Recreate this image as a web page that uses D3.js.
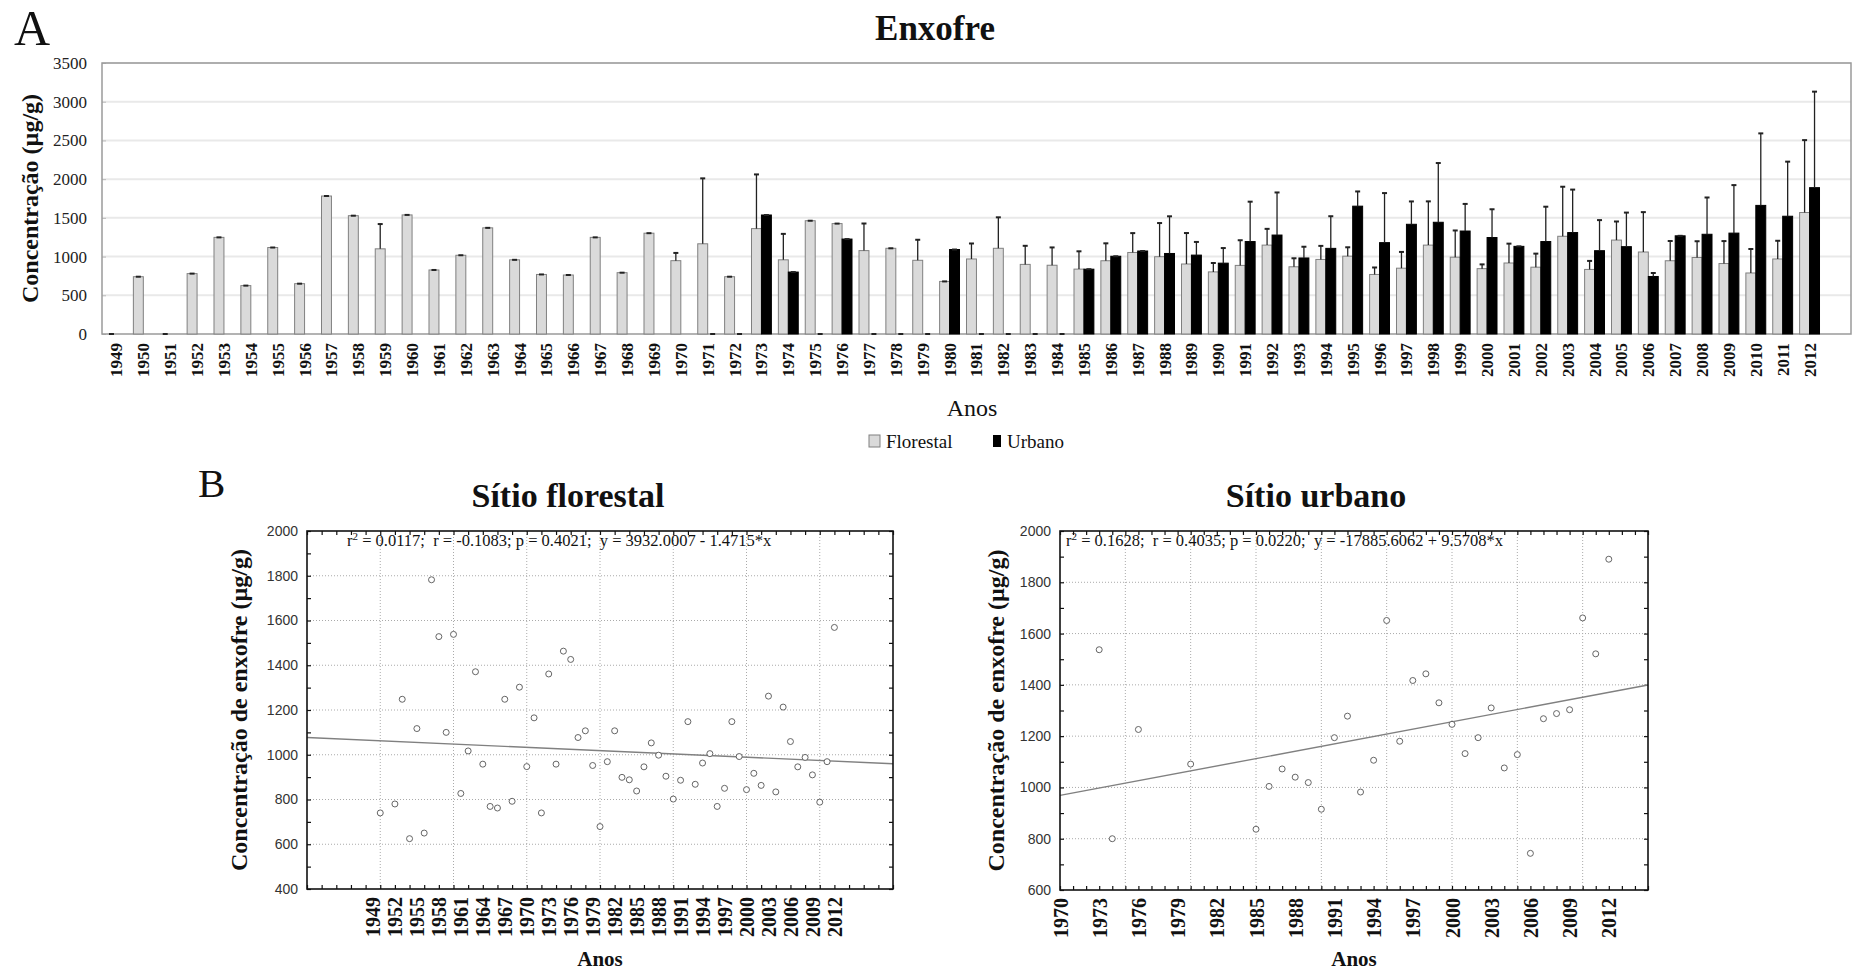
<!DOCTYPE html>
<html>
<head>
<meta charset="utf-8">
<script src="https://cdn.jsdelivr.net/npm/d3@7"></script>
<style>
    body { margin: 0; background: #fff; }
    svg text { font-family: "Liberation Serif", "Times New Roman", serif; fill: #111; }
</style>
</head>
<body>
<div id="chart"></div>
<script>
const width = 1854;
const height = 971;

// ---- data ----
const years = d3.range(1949, 2013);

// mean sulphur, forest site (0 = no sample, drawn as empty cap)
const florestal = [0, 740, 0, 780, 1248, 625, 1117, 650, 1782, 1528,
    1100, 1538, 827, 1017, 1371, 958, 769, 762, 1248, 792,
    1302, 947, 1165, 740, 1361, 958, 1463, 1426, 1077, 1107,
    952, 679, 969, 1107, 899, 888, 838, 946, 1053, 998,
    904, 802, 886, 1148, 868, 963, 1005, 769, 850, 1148,
    992, 844, 917, 863, 1262, 834, 1213, 1059, 946, 988,
    910, 788, 969, 1569];
const florestalErr = [0, 0, 0, 0, 0, 0, 0, 0, 0, 0,
    320, 0, 0, 0, 0, 0, 0, 0, 0, 0,
    0, 100, 845, 0, 700, 335, 0, 0, 350, 0,
    265, 0, 200, 400, 240, 230, 230, 225, 250, 435,
    400, 115, 325, 210, 110, 175, 115, 90, 210, 565,
    345, 55, 250, 175, 640, 110, 240, 515, 255, 210,
    290, 310, 235, 935];

// mean sulphur, urban site (null = not sampled, 0 = no sample shown as cap)
const urbano = [null, null, null, null, null, null, null, null, null, null,
    null, null, null, null, null, null, null, null, null, null,
    null, null, 0, 0, 1537, 800, 0, 1226, 0, 0,
    0, 1091, 0, 0, 0, 0, 837, 1004, 1072, 1040,
    1019, 915, 1194, 1278, 982, 1106, 1651, 1180, 1417, 1443,
    1330, 1246, 1132, 1194, 1310, 1076, 1128, 743, 1268, 1288,
    1303, 1661, 1521, 1890];
const urbanoErr = [0, 0, 0, 0, 0, 0, 0, 0, 0, 0,
    0, 0, 0, 0, 0, 0, 0, 0, 0, 0,
    0, 0, 0, 0, 0, 0, 0, 0, 0, 0,
    0, 0, 0, 0, 0, 0, 0, 0, 0, 480,
    170, 195, 515, 550, 145, 415, 190, 640, 295, 765,
    350, 365, 0, 450, 555, 395, 440, 45, 0, 475,
    620, 930, 705, 1240];

const barTicks = [0, 500, 1000, 1500, 2000, 2500, 3000, 3500];

const florestalLabels = d3.range(1949, 2013, 3);
const urbanoLabels = d3.range(1970, 2013, 3);
const florestalYTicks = [400, 600, 800, 1000, 1200, 1400, 1600, 1800, 2000];
const urbanoYTicks = [600, 800, 1000, 1200, 1400, 1600, 1800, 2000];

// regression coefficients printed on the plots
const florestalFit = [3932.0007, -1.4715];
const urbanoFit = [-17885.6062, 9.5708];
const florestalStats = ["0.0117", "-0.1083", "0.4021", "3932.0007 - 1.4715*x"];
const urbanoStats = ["0.1628", "0.4035", "0.0220", "-17885.6062 + 9.5708*x"];

const svg = d3.select('#chart')
    .append('svg')
    .attr('width', width)
    .attr('height', height);

// ================= A : bar chart =================
const plotA = { left: 102, right: 1851, top: 63, bottom: 334 };

const x = d3.scaleBand()
    .domain(years)
    .range([103, 1823]);

const y = d3.scaleLinear()
    .domain([0, 3500])
    .range([plotA.bottom, plotA.top]);

svg.append('text')
    .attr('x', 14).attr('y', 45)
    .style('font-size', '50px')
    .text('A');

svg.append('text')
    .attr('x', 935).attr('y', 40)
    .attr('text-anchor', 'middle')
    .style('font-size', '35px').style('font-weight', 'bold')
    .text('Enxofre');

// grid
svg.append('g')
    .selectAll('line')
    .data(barTicks.filter(d => d > 0))
    .enter().append('line')
    .attr('x1', plotA.left).attr('x2', plotA.right)
    .attr('y1', d => y(d)).attr('y2', d => y(d))
    .style('stroke', '#e9e9e9').style('stroke-width', 2);

const yAxisA = svg.append('g')
    .attr('transform', `translate(${plotA.left},0)`)
    .call(d3.axisLeft(y).tickValues(barTicks).tickFormat(d3.format('d')).tickSize(-4).tickPadding(15));
yAxisA.select('.domain').remove();
yAxisA.selectAll('line').style('stroke', '#bbb');
yAxisA.selectAll('text')
    .style('font-family', '"Liberation Serif", serif')
    .style('font-size', '17px').style('fill', '#222');

const xAxisA = svg.append('g')
    .attr('transform', `translate(0,${plotA.bottom})`)
    .call(d3.axisBottom(x).tickSize(0));
xAxisA.select('.domain').remove();
xAxisA.selectAll('text')
    .attr('transform', 'rotate(-90)')
    .attr('x', -9).attr('y', 0).attr('dy', '0.35em')
    .style('text-anchor', 'end')
    .style('font-family', '"Liberation Serif", serif')
    .style('font-size', '17px').style('font-weight', 'bold').style('fill', '#111');

svg.append('rect')
    .attr('x', plotA.left).attr('y', plotA.top)
    .attr('width', plotA.right - plotA.left).attr('height', plotA.bottom - plotA.top)
    .style('fill', 'none').style('stroke', '#9a9a9a').style('stroke-width', 1.5);

const bw = x.bandwidth() * 0.37;

function drawBars(values, errs, side, fill, stroke) {
    const rows = years.map((yr, i) => ({ yr: yr, v: values[i], e: errs[i] }))
        .filter(d => d.v !== null);
    const g = svg.append('g');
    const cx = d => x(d.yr) + x.bandwidth() / 2 + (side < 0 ? -bw / 2 : bw / 2);

    g.selectAll('rect')
        .data(rows.filter(d => d.v > 0))
        .enter().append('rect')
        .attr('x', d => cx(d) - bw / 2)
        .attr('width', bw)
        .attr('y', d => y(d.v))
        .attr('height', d => y(0) - y(d.v))
        .style('fill', fill).style('stroke', stroke).style('stroke-width', 1);

    g.selectAll('.err')
        .data(rows.filter(d => d.e > 0))
        .enter().append('line')
        .attr('class', 'err')
        .attr('x1', cx).attr('x2', cx)
        .attr('y1', d => y(d.v)).attr('y2', d => y(d.v + d.e))
        .style('stroke', '#222').style('stroke-width', 1.3);

    g.selectAll('.cap')
        .data(rows)
        .enter().append('line')
        .attr('class', 'cap')
        .attr('x1', d => cx(d) - 2.5).attr('x2', d => cx(d) + 2.5)
        .attr('y1', d => y(d.v + d.e)).attr('y2', d => y(d.v + d.e))
        .style('stroke', '#222').style('stroke-width', 2);
}

drawBars(florestal, florestalErr, -1, '#dadada', '#808080');
drawBars(urbano, urbanoErr, 1, '#000', '#000');

svg.append('text')
    .attr('transform', `translate(38,${(plotA.top + plotA.bottom) / 2}) rotate(-90)`)
    .attr('text-anchor', 'middle')
    .style('font-size', '24px').style('font-weight', 'bold')
    .text('Concentração (µg/g)');

svg.append('text')
    .attr('x', 972).attr('y', 416)
    .attr('text-anchor', 'middle')
    .style('font-size', '24px')
    .text('Anos');

// legend
const legend = svg.append('g').attr('transform', 'translate(869,435)');
legend.append('rect')
    .attr('width', 11).attr('height', 12)
    .style('fill', '#dadada').style('stroke', '#808080');
legend.append('text').attr('x', 17).attr('y', 13)
    .style('font-size', '19px').text('Florestal');
legend.append('rect')
    .attr('x', 124).attr('width', 8).attr('height', 12)
    .style('fill', '#000');
legend.append('text').attr('x', 138).attr('y', 13)
    .style('font-size', '19px').text('Urbano');

svg.append('text')
    .attr('x', 198).attr('y', 497)
    .style('font-size', '41px')
    .text('B');

// ================= B : scatter plots =================
function drawScatter(p) {
    const xs = d3.scaleLinear().domain(p.xDomain).range([p.left, p.right]);
    const ys = d3.scaleLinear().domain(p.yDomain).range([p.bottom, p.top]);
    const g = svg.append('g');

    g.append('text')
        .attr('x', p.titleX).attr('y', 507)
        .attr('text-anchor', 'middle')
        .style('font-size', '34px').style('font-weight', 'bold')
        .text(p.title);

    // dotted grid
    g.append('g').selectAll('line')
        .data(p.xGrid)
        .enter().append('line')
        .attr('x1', d => xs(d)).attr('x2', d => xs(d))
        .attr('y1', p.top).attr('y2', p.bottom)
        .style('stroke', '#aaa').style('stroke-width', 1).style('stroke-dasharray', '1,2');
    g.append('g').selectAll('line')
        .data(p.yTicks.slice(1, -1))
        .enter().append('line')
        .attr('x1', p.left).attr('x2', p.right)
        .attr('y1', d => ys(d)).attr('y2', d => ys(d))
        .style('stroke', '#aaa').style('stroke-width', 1).style('stroke-dasharray', '1,2');

    // inward minor ticks on all four sides
    const minorY = d3.range(p.yDomain[0], p.yDomain[1] + 1, 100);
    const minorX = d3.range(p.xDomain[0], p.xDomain[1] + 0.1, p.xMinor);
    [[d3.axisLeft(ys).tickValues(minorY), p.left, 0],
     [d3.axisRight(ys).tickValues(minorY), p.right, 0],
     [d3.axisTop(xs).tickValues(minorX), 0, p.top],
     [d3.axisBottom(xs).tickValues(minorX), 0, p.bottom]].forEach(a => {
        const t = g.append('g')
            .attr('transform', `translate(${a[1]},${a[2]})`)
            .call(a[0].tickSize(-4).tickFormat(''));
        t.select('.domain').remove();
        t.selectAll('line').style('stroke', '#111').style('stroke-width', 1.2);
    });

    const yAx = g.append('g')
        .attr('transform', `translate(${p.left},0)`)
        .call(d3.axisLeft(ys).tickValues(p.yTicks).tickFormat(d3.format('d')).tickSize(0).tickPadding(9));
    yAx.select('.domain').remove();
    yAx.selectAll('text')
        .style('font-family', '"Liberation Sans", Arial, sans-serif')
        .style('font-size', '14px').style('fill', '#333');

    const xAx = g.append('g')
        .attr('transform', `translate(0,${p.bottom})`)
        .call(d3.axisBottom(xs).tickValues(p.labels).tickFormat(d3.format('d')).tickSize(0));
    xAx.select('.domain').remove();
    xAx.selectAll('text')
        .attr('transform', 'rotate(-90)')
        .attr('x', -8).attr('y', 0).attr('dy', '0.35em')
        .style('text-anchor', 'end')
        .style('font-family', '"Liberation Serif", serif')
        .style('font-size', '20px').style('font-weight', 'bold').style('fill', '#111');

    // regression line
    g.append('line')
        .attr('x1', xs(p.xDomain[0])).attr('x2', xs(p.xDomain[1]))
        .attr('y1', ys(p.fit[0] + p.fit[1] * p.xDomain[0]))
        .attr('y2', ys(p.fit[0] + p.fit[1] * p.xDomain[1]))
        .style('stroke', '#808080').style('stroke-width', 1.4);

    g.append('g').selectAll('circle')
        .data(years.map((yr, i) => ({ yr: yr, v: p.values[i] })).filter(d => d.v > 0))
        .enter().append('circle')
        .attr('cx', d => xs(d.yr))
        .attr('cy', d => ys(d.v))
        .attr('r', 3)
        .style('fill', '#fff').style('stroke', '#555').style('stroke-width', 0.9);

    g.append('rect')
        .attr('x', p.left).attr('y', p.top)
        .attr('width', p.right - p.left).attr('height', p.bottom - p.top)
        .style('fill', 'none').style('stroke', '#111').style('stroke-width', 1.6);

    const st = g.append('text')
        .attr('x', p.left + p.statsDx).attr('y', p.top + 15)
        .style('font-size', '16.5px').style('white-space', 'pre');
    st.append('tspan').text('r');
    st.append('tspan').attr('dy', -6).style('font-size', '11px').text('2');
    st.append('tspan').attr('dy', 6)
        .text(` = ${p.stats[0]};  r = ${p.stats[1]}; p = ${p.stats[2]};  y = ${p.stats[3]}`);

    g.append('text')
        .attr('transform', `translate(${p.yTitleX},${(p.top + p.bottom) / 2}) rotate(-90)`)
        .attr('text-anchor', 'middle')
        .style('font-size', '24px').style('font-weight', 'bold')
        .text('Concentração de enxofre (µg/g)');

    g.append('text')
        .attr('x', (p.left + p.right) / 2).attr('y', 966)
        .attr('text-anchor', 'middle')
        .style('font-size', '21px').style('font-weight', 'bold')
        .text('Anos');
}

drawScatter({
    left: 307, right: 893, top: 531, bottom: 889,
    xDomain: [1940, 2020], yDomain: [400, 2000],
    xGrid: [1950, 1960, 1970, 1980, 1990, 2000, 2010], xMinor: 2,
    yTicks: florestalYTicks, labels: florestalLabels,
    values: florestal, fit: florestalFit, stats: florestalStats, statsDx: 40,
    title: 'Sítio florestal', titleX: 568, yTitleX: 247
});

drawScatter({
    left: 1060, right: 1648, top: 531, bottom: 890,
    xDomain: [1970, 2015], yDomain: [600, 2000],
    xGrid: [1975, 1980, 1985, 1990, 1995, 2000, 2005, 2010], xMinor: 1,
    yTicks: urbanoYTicks, labels: urbanoLabels,
    values: urbano, fit: urbanoFit, stats: urbanoStats, statsDx: 6,
    title: 'Sítio urbano', titleX: 1316, yTitleX: 1004
});
</script>
</body>
</html>
